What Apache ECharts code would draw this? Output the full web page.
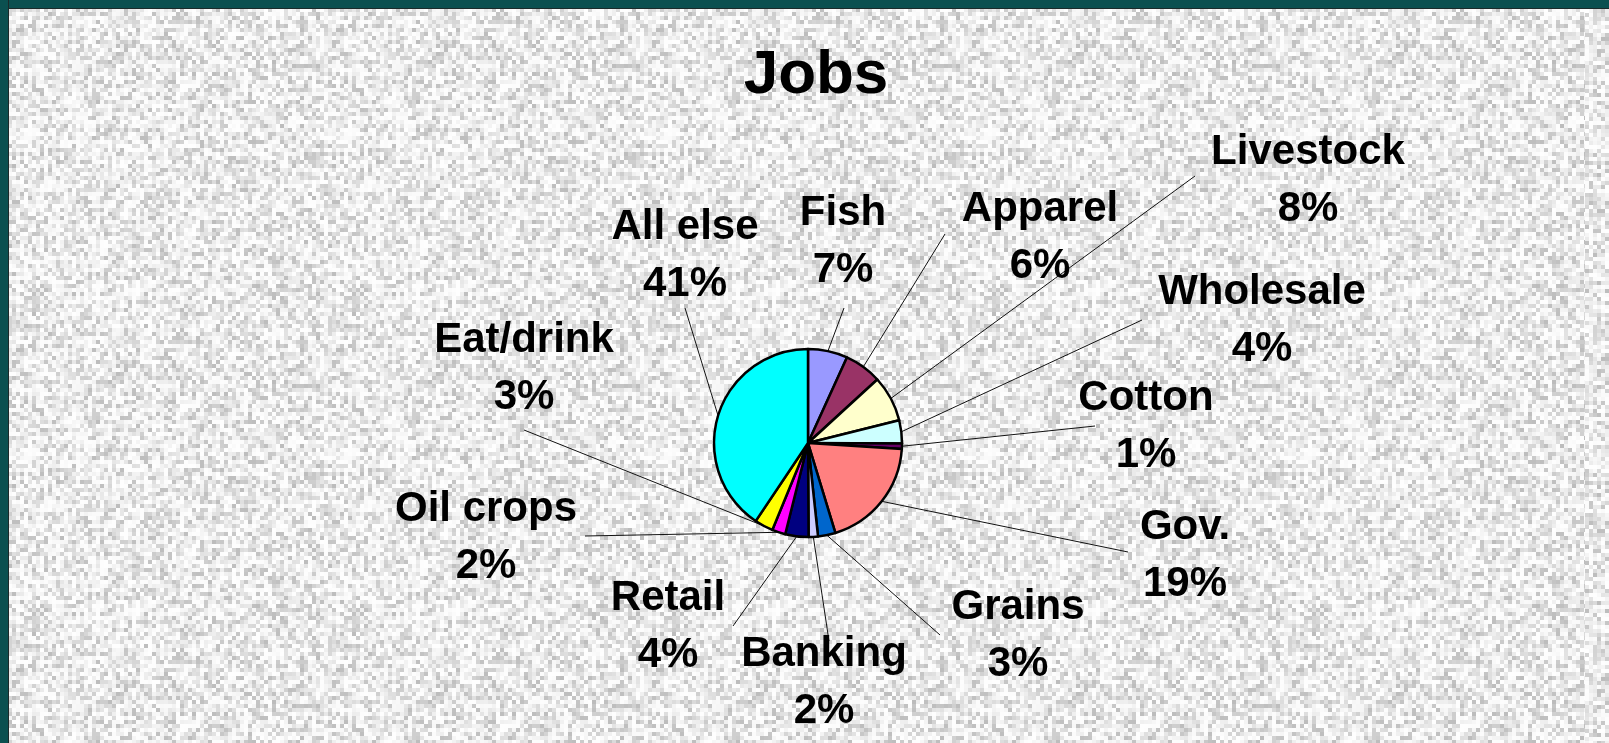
<!DOCTYPE html>
<html>
<head>
<meta charset="utf-8">
<title>Jobs</title>
<script src="https://cdn.jsdelivr.net/npm/echarts@6/dist/echarts.min.js"></script>
<style>
  html, body { margin: 0; padding: 0; overflow: hidden; width: 1609px; height: 743px; background-color: #e8e8e8; }
  .edge { position: fixed; left: 0; top: 0; background: #0b5050; }
  #edgeTop { width: 1609px; height: 8px; border-bottom: 1px solid #1c2a2a; }
  #edgeLeft { width: 8px; height: 743px; border-right: 1px solid #1c2a2a; }
  #paperRight { position: fixed; right: 0; top: 9px; width: 24px; height: 800px; }
  #main { position: absolute; left: 0; top: 0; width: 1609px; height: 743px; }
</style>
</head>
<body>
<div id="edgeTop" class="edge"></div>
<div id="edgeLeft" class="edge"></div>
<div id="paperRight"></div>
<div id="main"></div>
<script>
// slice data, clockwise from 12 o'clock
const categories = ['Fish', 'Apparel', 'Livestock', 'Wholesale', 'Cotton', 'Gov.', 'Grains', 'Banking', 'Retail', 'Oil crops', 'Eat/drink', 'All else']
const shares = [6.8, 6.4, 7.9, 4.0, 0.9, 19.3, 3.0, 1.6, 4.0, 2.3, 3.2, 40.6]
const sliceColors = ['#9999ff', '#993366', '#ffffcc', '#ccffff', '#660066', '#ff8080', '#0066cc', '#ccccff', '#000080', '#ff00ff', '#ffff00', '#00ffff']

// label centre x, y and leader line end x, y (px)
const labelSpots = [
  [843, 242, 844, 308],
  [1040, 238, 945, 234],
  [1308, 181, 1195, 176],
  [1262, 321, 1142, 320],
  [1146, 427, 1095, 426],
  [1185, 556, 1128, 552],
  [1018, 636, 940, 635],
  [824, 683, 829, 641],
  [668, 627, 733, 626],
  [486, 538, 585, 536],
  [524, 369, 524, 430],
  [685, 256, 685, 308]
]

// granite-ish paper texture
function paperTexture () {
  const cell = 4
  const n = 80
  const cv = document.createElement('canvas')
  cv.width = cv.height = cell * n
  const ctx = cv.getContext('2d')
  for (let i = 0; i < n; i++) {
    for (let j = 0; j < n; j++) {
      const s = Math.sin(i * 127.1 + j * 311.7) * 43758.5453
      const v = s - Math.floor(s)
      const g = Math.round(254 - v * v * 66)
      ctx.fillStyle = 'rgb(' + g + ',' + g + ',' + g + ')'
      ctx.fillRect(i * cell, j * cell, cell, cell)
    }
  }
  return cv.toDataURL()
}
const texture = 'url(' + paperTexture() + ')'
document.body.style.backgroundImage = texture
document.getElementById('paperRight').style.backgroundImage = texture

const chart = echarts.init(document.getElementById('main'))
const seriesData = categories.map((name, i) => {
  return { name: name, value: shares[i], itemStyle: { color: sliceColors[i] } }
})

const option = {
  backgroundColor: 'transparent',
  animation: false,
  title: {
    text: 'Jobs',
    left: 811,
    top: 40,
    textAlign: 'center',
    textStyle: {
      fontFamily: 'Liberation Sans, Arial, sans-serif',
      fontWeight: 'bold',
      fontSize: 62,
      color: '#000'
    }
  },
  series: [
    {
      type: 'pie',
      center: [808, 443],
      radius: 94,
      startAngle: 90,
      clockwise: true,
      percentPrecision: 0,
      avoidLabelOverlap: false,
      itemStyle: { borderColor: '#000', borderWidth: 2.5 },
      label: {
        show: true,
        formatter: '{b}\n{d}%',
        fontFamily: 'Liberation Sans, Arial, sans-serif',
        fontWeight: 'bold',
        fontSize: 42,
        lineHeight: 57,
        color: '#000',
        align: 'center'
      },
      labelLine: {
        show: true,
        length: 20,
        length2: 10,
        lineStyle: { color: '#111', width: 1 }
      },
      labelLayout: function (params) {
        const spot = labelSpots[params.dataIndex]
        const res = { x: spot[0], y: spot[1], align: 'center', verticalAlign: 'middle' }
        if (params.labelLinePoints) {
          const start = params.labelLinePoints[0]
          res.labelLinePoints = [start, [spot[2], spot[3]], [spot[2], spot[3]]]
        }
        return res
      },
      emphasis: { disabled: true },
      data: seriesData
    }
  ]
}
chart.setOption(option)
</script>
</body>
</html>
